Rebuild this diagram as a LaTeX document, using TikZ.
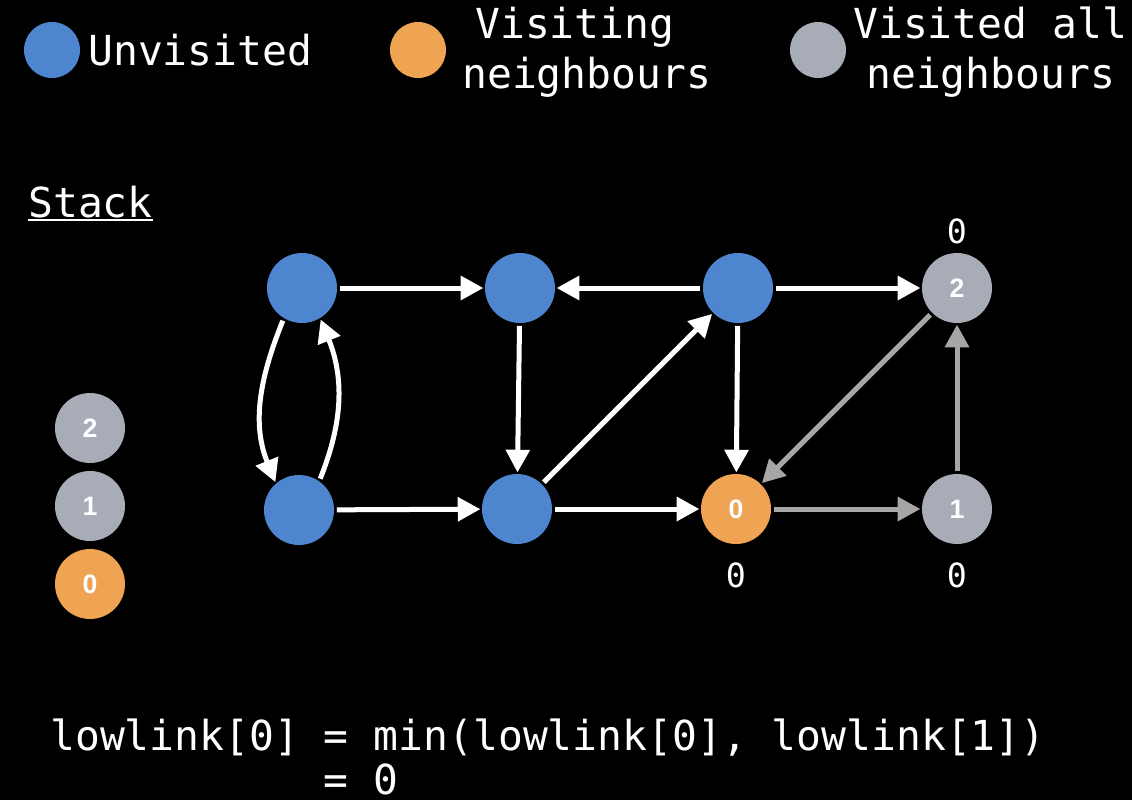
\documentclass[tikz,border=0pt]{standalone}
\usepackage{fontspec}
\setmainfont{DejaVu Sans Mono}[RawFeature=+zero]
\newfontfamily\numfont{Liberation Sans}
\usetikzlibrary{arrows.meta}
\definecolor{nblue}{HTML}{4E85CF}
\definecolor{norange}{HTML}{EFA453}
\definecolor{ngray}{HTML}{A7ACB7}
\definecolor{egray}{HTML}{A5A6A5}
\begin{document}
\begin{tikzpicture}[x=0.75pt,y=-0.75pt,
  vtx/.style={circle,inner sep=0pt,minimum size=52.5pt,text=white,
    font=\numfont\bfseries\fontsize{20}{20}\selectfont},
  unv/.style={vtx,fill=nblue},
  vis/.style={vtx,fill=norange},
  done/.style={vtx,fill=ngray},
  legc/.style={circle,inner sep=0pt,minimum size=42pt},
  big/.style={inner sep=0pt,text=white,font=\fontsize{31}{36}\selectfont},
  lbl/.style={inner sep=0pt,text=white,font=\fontsize{25}{30}\selectfont},
  edge/.style={white,line width=3.75pt,-{Triangle[length=17pt,width=17.5pt]},shorten <=2pt,shorten >=1pt},
  gedge/.style={edge,egray},
]
\fill[black] (0,0) rectangle (1132,800);
\useasboundingbox (0,0) rectangle (1132,800);

% legend
\node[legc,fill=nblue] (l1) at (52,50) {};
\node[big,anchor=base west] (t1) at (88,65) {Unvisited};
\node[legc,fill=norange] (l2) at (418,50) {};
\node[big,anchor=base west] (t2a) at (475,38) {Visiting};
\node[big,anchor=base west] (t2b) at (462,88) {neighbours};
\node[legc,fill=ngray] (l3) at (818,50) {};
\node[big,anchor=base west] (t3a) at (853,38) {Visited all};
\node[big,anchor=base west] (t3b) at (866,88) {neighbours};

% stack
\node[big,anchor=base west] (S) at (28,217) {Stack};
\draw[white,line width=1.5pt] ([yshift=-2pt]S.base west) -- ([yshift=-2pt]S.base east);
\node[done] (s2) at (90,428) {2};
\node[done] (s1) at (90,506) {1};
\node[vis] (s0) at (90,584) {0};

% graph
\node[unv] (A) at (302,288) {};
\node[unv] (B) at (520,288) {};
\node[unv] (C) at (738,288) {};
\node[done] (D) at (957,288) {2};
\node[unv] (E) at (299,510) {};
\node[unv] (F) at (517,509) {};
\node[vis] (G) at (736,509) {0};
\node[done] (H) at (957,509) {1};

\node[lbl,anchor=base] (dl) at (957,243) {0};
\node[lbl,anchor=base] (gl) at (736,587) {0};
\node[lbl,anchor=base] (hl) at (957,587) {0};

\draw[edge] (A) -- (B);
\draw[edge] (C) -- (B);
\draw[edge] (C) -- (D);
\draw[edge] (A.239) to[out=248,in=112] (E.131);
\draw[edge] (E.55) to[out=68,in=292] (A.301);
\draw[edge] (B) -- (F);
\draw[edge] (E) -- (F);
\draw[edge] (F) -- (C);
\draw[edge] (F) -- (G);
\draw[edge] (C) -- (G);
\draw[gedge] (D) -- (G);
\draw[gedge] (G) -- (H);
\draw[gedge] (H) -- (D);

% bottom text
\node[big,anchor=base west] (f1) at (50,750) {lowlink[0] = min(lowlink[0], lowlink[1])};
\node[big,anchor=base west] (f2) at (323,794) {= 0};
\end{tikzpicture}
\end{document}
